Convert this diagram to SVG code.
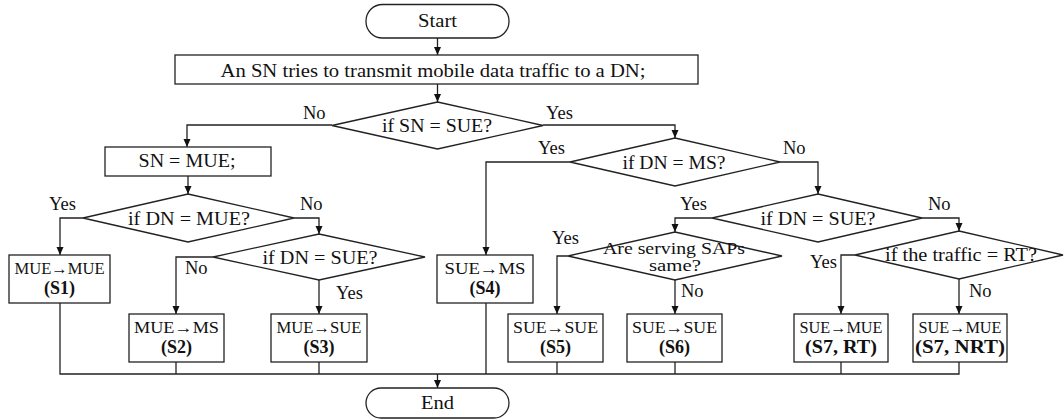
<svg xmlns="http://www.w3.org/2000/svg" width="1064" height="420" viewBox="0 0 1064 420">
<style>
.shape{fill:#fff;stroke:#222;stroke-width:1.3}
.ln{fill:none;stroke:#222;stroke-width:1.3}
text{fill:#111;font-family:"Liberation Serif","Times New Roman",serif}
.t{font-size:19px;text-anchor:middle}
.ts{font-size:17px;text-anchor:middle}
.lb{font-size:18.5px}
.bx{font-size:16px;text-anchor:middle}
.bb{font-size:18px;font-weight:bold;text-anchor:middle}
</style>
<defs>
<marker id="ah" viewBox="0 0 8 8" refX="8" refY="4" markerWidth="8" markerHeight="8" markerUnits="userSpaceOnUse" orient="auto">
<path d="M0,0.5 L8,4 L0,7.5 Z" fill="#111"/>
</marker>
</defs>
<g id="connectors">
<path class="ln" d="M437.5,38 V55" marker-end="url(#ah)"/>
<path class="ln" d="M437.5,84 V102" marker-end="url(#ah)"/>
<path class="ln" d="M332,125 H187 V147" marker-end="url(#ah)"/>
<path class="ln" d="M543,125 H675 V138" marker-end="url(#ah)"/>
<path class="ln" d="M188,176 V194" marker-end="url(#ah)"/>
<path class="ln" d="M83,218 H60 V255" marker-end="url(#ah)"/>
<path class="ln" d="M294,218 H319 V234" marker-end="url(#ah)"/>
<path class="ln" d="M213,257 H176 V314" marker-end="url(#ah)"/>
<path class="ln" d="M319,280 V314" marker-end="url(#ah)"/>
<path class="ln" d="M570,162 H486 V255" marker-end="url(#ah)"/>
<path class="ln" d="M780,162 H818 V194" marker-end="url(#ah)"/>
<path class="ln" d="M712,218 H675 V232" marker-end="url(#ah)"/>
<path class="ln" d="M922,218 H959 V231" marker-end="url(#ah)"/>
<path class="ln" d="M568,256 H557 V314" marker-end="url(#ah)"/>
<path class="ln" d="M675,280 V314" marker-end="url(#ah)"/>
<path class="ln" d="M855,255 H841 V314" marker-end="url(#ah)"/>
<path class="ln" d="M959,279 V314" marker-end="url(#ah)"/>
<path class="ln" d="M60,303 V374 H959 V362 M176,362 V374 M319,362 V374 M486,303 V374 M557,362 V374 M675,362 V374 M841,362 V374"/>
<path class="ln" d="M437.5,374 V388" marker-end="url(#ah)"/>
<text class="lb" x="303" y="119">No</text>
<text class="lb" x="546" y="119">Yes</text>
<text class="lb" x="49" y="210">Yes</text>
<text class="lb" x="300" y="210">No</text>
<text class="lb" x="185" y="274">No</text>
<text class="lb" x="336" y="299">Yes</text>
<text class="lb" x="538" y="154">Yes</text>
<text class="lb" x="783" y="154">No</text>
<text class="lb" x="680" y="210">Yes</text>
<text class="lb" x="928" y="210">No</text>
<text class="lb" x="552" y="244">Yes</text>
<text class="lb" x="681" y="297">No</text>
<text class="lb" x="837" y="268" text-anchor="end">Yes</text>
<text class="lb" x="969" y="297">No</text>
</g>
<g id="start">
<rect class="shape" x="366" y="4.5" width="143" height="33.5" rx="16.5"/>
<text class="t" x="437.5" y="27" textLength="39" lengthAdjust="spacingAndGlyphs">Start</text>
</g>
<g id="transmit">
<rect class="shape" x="175" y="55" width="523" height="29"/>
<text class="t" x="433" y="76.5" textLength="425" lengthAdjust="spacingAndGlyphs">An SN tries to transmit mobile data traffic to a DN;</text>
</g>
<g id="d-sn-sue">
<polygon class="shape" points="437.5,102 543,125.5 437.5,149 332,125.5"/>
<text class="t" x="437" y="132" textLength="110" lengthAdjust="spacingAndGlyphs">if SN = SUE?</text>
</g>
<g id="sn-mue">
<rect class="shape" x="105" y="147" width="166" height="29"/>
<text class="t" x="187" y="167" textLength="97" lengthAdjust="spacingAndGlyphs">SN = MUE;</text>
</g>
<g id="d-dn-mue">
<polygon class="shape" points="188,194 294,218 188,242 83,218"/>
<text class="t" x="189" y="224.5" textLength="122" lengthAdjust="spacingAndGlyphs">if DN = MUE?</text>
</g>
<g id="d-dn-sue-left">
<polygon class="shape" points="319,234 425,257 319,280 213,257"/>
<text class="t" x="320" y="263.5" textLength="115" lengthAdjust="spacingAndGlyphs">if DN = SUE?</text>
</g>
<g id="d-dn-ms">
<polygon class="shape" points="675,138 780,162 675,186 570,162"/>
<text class="t" x="674" y="168.5" textLength="103" lengthAdjust="spacingAndGlyphs">if DN = MS?</text>
</g>
<g id="d-dn-sue-right">
<polygon class="shape" points="818,194 922,218 818,242 712,218"/>
<text class="t" x="818" y="224.5" textLength="115" lengthAdjust="spacingAndGlyphs">if DN = SUE?</text>
</g>
<g id="d-saps">
<polygon class="shape" points="675,232 782,256 675,280 568,256"/>
<text class="ts" x="674" y="254" textLength="142" lengthAdjust="spacingAndGlyphs">Are serving SAPs</text>
<text class="ts" x="675" y="271" textLength="52" lengthAdjust="spacingAndGlyphs">same?</text>
</g>
<g id="d-traffic">
<polygon class="shape" points="959,231 1063,255 959,279 855,255"/>
<text class="t" x="961" y="261" textLength="152" lengthAdjust="spacingAndGlyphs">if the traffic = RT?</text>
</g>
<g id="s1">
<rect class="shape" x="9" y="255" width="101" height="48"/>
<text class="bx" x="59.5" y="274" textLength="90" lengthAdjust="spacingAndGlyphs">MUE→MUE</text>
<text class="bb" x="59.5" y="294">(S1)</text>
</g>
<g id="s4">
<rect class="shape" x="437" y="255" width="96" height="48"/>
<text class="bx" x="485" y="274" textLength="81" lengthAdjust="spacingAndGlyphs">SUE→MS</text>
<text class="bb" x="485" y="294">(S4)</text>
</g>
<g id="s2">
<rect class="shape" x="129" y="314" width="95" height="48"/>
<text class="bx" x="176.5" y="333" textLength="85" lengthAdjust="spacingAndGlyphs">MUE→MS</text>
<text class="bb" x="176.5" y="353">(S2)</text>
</g>
<g id="s3">
<rect class="shape" x="271" y="314" width="96" height="48"/>
<text class="bx" x="319" y="333" textLength="85" lengthAdjust="spacingAndGlyphs">MUE→SUE</text>
<text class="bb" x="319" y="353">(S3)</text>
</g>
<g id="s5">
<rect class="shape" x="508" y="314" width="95" height="48"/>
<text class="bx" x="555.5" y="333" textLength="85" lengthAdjust="spacingAndGlyphs">SUE→SUE</text>
<text class="bb" x="555.5" y="353">(S5)</text>
</g>
<g id="s6">
<rect class="shape" x="627" y="314" width="95" height="48"/>
<text class="bx" x="674.5" y="333" textLength="85" lengthAdjust="spacingAndGlyphs">SUE→SUE</text>
<text class="bb" x="674.5" y="353">(S6)</text>
</g>
<g id="s7-rt">
<rect class="shape" x="794" y="314" width="94" height="48"/>
<text class="bx" x="841" y="333" textLength="83" lengthAdjust="spacingAndGlyphs">SUE→MUE</text>
<text class="bb" x="841" y="353" textLength="72" lengthAdjust="spacingAndGlyphs">(S7, RT)</text>
</g>
<g id="s7-nrt">
<rect class="shape" x="913" y="314" width="94" height="48"/>
<text class="bx" x="960" y="333" textLength="83" lengthAdjust="spacingAndGlyphs">SUE→MUE</text>
<text class="bb" x="960" y="353" textLength="90" lengthAdjust="spacingAndGlyphs">(S7, NRT)</text>
</g>
<g id="end">
<rect class="shape" x="366" y="388" width="143" height="30" rx="15"/>
<text class="t" x="437.5" y="409" textLength="33" lengthAdjust="spacingAndGlyphs">End</text>
</g>
</svg>
